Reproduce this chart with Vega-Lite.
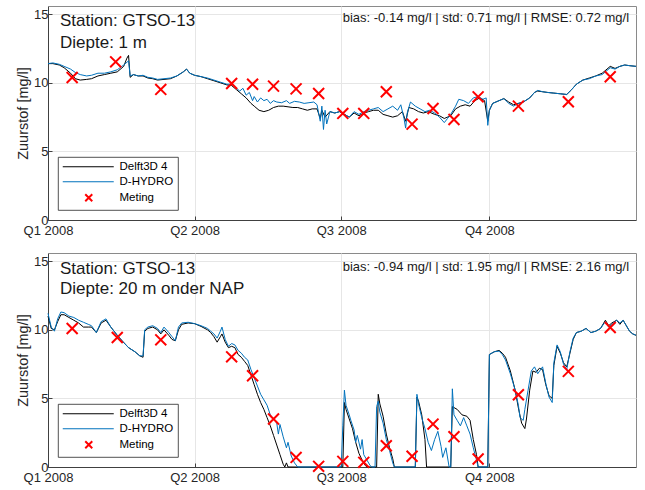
{
  "$schema": "https://vega.github.io/schema/vega-lite/v6.json",
  "padding": {"left": 15, "top": 5, "right": 7, "bottom": 3},
  "background": "white",
  "config": {
    "font": "Liberation Sans",
    "view": {"stroke": "#8a8a8a", "strokeWidth": 1},
    "concat": {"spacing": 14},
    "axis": {
      "labelFont": "Liberation Sans", "labelFontSize": 13, "labelColor": "#262626",
      "titleFont": "Liberation Sans", "titleFontSize": 14.5, "titleFontWeight": "normal", "titleColor": "#262626",
      "gridColor": "#e6e6e6", "gridWidth": 1,
      "domainColor": "#404040", "domainWidth": 1,
      "ticks": true, "tickSize": -4, "tickColor": "#404040"
    },
    "axisX": {"labelPadding": 8},
    "axisY": {"labelPadding": 4},
    "legend": {
      "orient": "bottom-left", "offset": 10, "padding": 4, "rowPadding": 2,
      "fillColor": "white", "strokeColor": "#262626", "strokeWidth": 0.8,
      "labelFont": "Liberation Sans", "labelFontSize": 11.5, "labelColor": "#000000",
      "labelOffset": 46, "symbolSize": 100, "symbolStrokeWidth": 1
    }
  },
  "datasets": {
    "top_d3d": [
      {"t":"2008-01-01","v":11.4},{"t":"2008-01-04","v":11.4},{"t":"2008-01-08","v":11.3},{"t":"2008-01-11","v":11.1},{"t":"2008-01-15","v":10.7},{"t":"2008-01-18","v":10.3},{"t":"2008-01-21","v":10.2},{"t":"2008-01-25","v":10.25},{"t":"2008-01-28","v":10.3},
      {"t":"2008-02-01","v":10.5},{"t":"2008-02-05","v":10.6},{"t":"2008-02-09","v":10.7},{"t":"2008-02-13","v":10.8},{"t":"2008-02-17","v":11.2},{"t":"2008-02-19","v":11.8},{"t":"2008-02-20","v":12.0},{"t":"2008-02-21","v":10.4},{"t":"2008-02-23","v":10.6},{"t":"2008-02-26","v":10.5},{"t":"2008-02-29","v":10.5},
      {"t":"2008-03-03","v":10.35},{"t":"2008-03-06","v":10.3},{"t":"2008-03-09","v":10.2},{"t":"2008-03-13","v":10.25},{"t":"2008-03-17","v":10.3},{"t":"2008-03-21","v":10.5},{"t":"2008-03-25","v":10.8},{"t":"2008-03-27","v":11.0},{"t":"2008-03-29","v":10.7},
      {"t":"2008-04-01","v":10.55},{"t":"2008-04-05","v":10.45},{"t":"2008-04-09","v":10.3},{"t":"2008-04-13","v":10.15},{"t":"2008-04-17","v":10.0},{"t":"2008-04-21","v":9.85},{"t":"2008-04-24","v":9.8},{"t":"2008-04-27","v":9.5},{"t":"2008-04-30","v":9.2},
      {"t":"2008-05-03","v":8.9},{"t":"2008-05-06","v":8.5},{"t":"2008-05-08","v":8.3},{"t":"2008-05-11","v":8.0},{"t":"2008-05-14","v":7.9},{"t":"2008-05-17","v":8.0},{"t":"2008-05-20","v":8.2},{"t":"2008-05-23","v":8.3},{"t":"2008-05-26","v":8.3},{"t":"2008-05-29","v":8.25},
      {"t":"2008-06-01","v":8.2},{"t":"2008-06-04","v":8.2},{"t":"2008-06-07","v":8.1},{"t":"2008-06-10","v":8.0},{"t":"2008-06-13","v":8.1},{"t":"2008-06-16","v":8.1},{"t":"2008-06-18","v":7.4},{"t":"2008-06-19","v":8.0},{"t":"2008-06-21","v":7.5},{"t":"2008-06-24","v":7.9},{"t":"2008-06-27","v":7.8},{"t":"2008-06-30","v":7.9},
      {"t":"2008-07-03","v":7.7},{"t":"2008-07-06","v":7.5},{"t":"2008-07-09","v":7.8},{"t":"2008-07-12","v":7.6},{"t":"2008-07-15","v":7.8},{"t":"2008-07-18","v":7.9},{"t":"2008-07-21","v":8.0},{"t":"2008-07-24","v":8.0},{"t":"2008-07-27","v":7.7},{"t":"2008-07-30","v":7.6},
      {"t":"2008-08-02","v":7.5},{"t":"2008-08-05","v":7.6},{"t":"2008-08-08","v":7.9},{"t":"2008-08-10","v":7.2},{"t":"2008-08-12","v":8.2},{"t":"2008-08-15","v":8.1},{"t":"2008-08-18","v":7.9},{"t":"2008-08-21","v":7.8},{"t":"2008-08-24","v":7.9},{"t":"2008-08-28","v":7.7},{"t":"2008-08-31","v":7.6},
      {"t":"2008-09-03","v":7.4},{"t":"2008-09-07","v":7.6},{"t":"2008-09-10","v":8.1},{"t":"2008-09-13","v":8.3},{"t":"2008-09-16","v":8.4},{"t":"2008-09-19","v":8.3},{"t":"2008-09-22","v":8.7},{"t":"2008-09-25","v":8.9},{"t":"2008-09-28","v":8.7},{"t":"2008-09-30","v":7.2},
      {"t":"2008-10-01","v":8.0},{"t":"2008-10-03","v":8.5},{"t":"2008-10-07","v":8.7},{"t":"2008-10-10","v":8.85},{"t":"2008-10-13","v":8.6},{"t":"2008-10-16","v":8.4},{"t":"2008-10-19","v":8.5},{"t":"2008-10-22","v":8.6},{"t":"2008-10-26","v":8.9},{"t":"2008-10-29","v":9.3},{"t":"2008-10-31","v":9.4},
      {"t":"2008-11-03","v":9.35},{"t":"2008-11-06","v":9.3},{"t":"2008-11-10","v":9.25},{"t":"2008-11-14","v":9.2},{"t":"2008-11-18","v":9.15},{"t":"2008-11-21","v":9.5},{"t":"2008-11-24","v":9.9},{"t":"2008-11-28","v":10.2},
      {"t":"2008-12-02","v":10.35},{"t":"2008-12-06","v":10.5},{"t":"2008-12-10","v":10.7},{"t":"2008-12-13","v":11.0},{"t":"2008-12-15","v":11.2},{"t":"2008-12-18","v":11.05},{"t":"2008-12-21","v":11.2},{"t":"2008-12-24","v":11.3},{"t":"2008-12-27","v":11.25},{"t":"2008-12-31","v":11.2}
    ],
    "top_dh": [
      {"t":"2008-01-01","v":11.4},{"t":"2008-01-04","v":11.45},{"t":"2008-01-08","v":11.35},{"t":"2008-01-11","v":11.2},{"t":"2008-01-15","v":11.0},{"t":"2008-01-18","v":10.75},{"t":"2008-01-21","v":10.6},{"t":"2008-01-25","v":10.5},{"t":"2008-01-28","v":10.55},
      {"t":"2008-02-01","v":10.7},{"t":"2008-02-05","v":10.7},{"t":"2008-02-09","v":10.8},{"t":"2008-02-13","v":10.95},{"t":"2008-02-17","v":11.3},{"t":"2008-02-19","v":11.5},{"t":"2008-02-20","v":11.6},{"t":"2008-02-21","v":10.5},{"t":"2008-02-23","v":10.6},{"t":"2008-02-26","v":10.5},{"t":"2008-02-29","v":10.55},
      {"t":"2008-03-03","v":10.4},{"t":"2008-03-06","v":10.35},{"t":"2008-03-09","v":10.25},{"t":"2008-03-13","v":10.3},{"t":"2008-03-17","v":10.35},{"t":"2008-03-21","v":10.5},{"t":"2008-03-25","v":10.8},{"t":"2008-03-27","v":11.0},{"t":"2008-03-29","v":10.7},
      {"t":"2008-04-01","v":10.55},{"t":"2008-04-05","v":10.45},{"t":"2008-04-09","v":10.35},{"t":"2008-04-13","v":10.2},{"t":"2008-04-17","v":10.05},{"t":"2008-04-21","v":9.9},{"t":"2008-04-24","v":9.9},{"t":"2008-04-27","v":9.6},{"t":"2008-04-29","v":9.4},
      {"t":"2008-05-01","v":9.6},{"t":"2008-05-03","v":9.1},{"t":"2008-05-05","v":9.3},{"t":"2008-05-07","v":8.7},{"t":"2008-05-08","v":9.0},{"t":"2008-05-10","v":8.6},{"t":"2008-05-12","v":8.9},{"t":"2008-05-14","v":8.7},{"t":"2008-05-16","v":8.8},{"t":"2008-05-18","v":8.5},{"t":"2008-05-20","v":8.7},{"t":"2008-05-22","v":8.6},{"t":"2008-05-25","v":8.55},{"t":"2008-05-28","v":8.7},{"t":"2008-05-30","v":8.5},
      {"t":"2008-06-02","v":8.65},{"t":"2008-06-05","v":8.6},{"t":"2008-06-08","v":8.5},{"t":"2008-06-11","v":8.55},{"t":"2008-06-14","v":8.6},{"t":"2008-06-16","v":8.4},{"t":"2008-06-18","v":7.2},{"t":"2008-06-19","v":8.3},{"t":"2008-06-20","v":6.6},{"t":"2008-06-21","v":8.0},{"t":"2008-06-22","v":7.0},{"t":"2008-06-24","v":7.9},{"t":"2008-06-27","v":7.8},{"t":"2008-06-30","v":7.9},
      {"t":"2008-07-03","v":7.7},{"t":"2008-07-06","v":7.5},{"t":"2008-07-09","v":7.9},{"t":"2008-07-12","v":7.7},{"t":"2008-07-15","v":7.9},{"t":"2008-07-18","v":8.0},{"t":"2008-07-21","v":8.1},{"t":"2008-07-24","v":8.2},{"t":"2008-07-27","v":7.9},{"t":"2008-07-30","v":8.1},
      {"t":"2008-08-02","v":8.3},{"t":"2008-08-05","v":8.0},{"t":"2008-08-07","v":8.4},{"t":"2008-08-09","v":7.4},{"t":"2008-08-10","v":6.7},{"t":"2008-08-11","v":7.8},{"t":"2008-08-13","v":8.6},{"t":"2008-08-16","v":8.3},{"t":"2008-08-19","v":8.1},{"t":"2008-08-22","v":7.9},{"t":"2008-08-25","v":8.0},{"t":"2008-08-28","v":7.8},{"t":"2008-08-31","v":7.5},
      {"t":"2008-09-03","v":7.1},{"t":"2008-09-05","v":7.4},{"t":"2008-09-07","v":7.7},{"t":"2008-09-10","v":8.3},{"t":"2008-09-12","v":8.8},{"t":"2008-09-15","v":8.7},{"t":"2008-09-18","v":8.5},{"t":"2008-09-21","v":8.9},{"t":"2008-09-24","v":9.0},{"t":"2008-09-27","v":8.8},{"t":"2008-09-29","v":8.9},{"t":"2008-09-30","v":6.9},
      {"t":"2008-10-01","v":8.0},{"t":"2008-10-03","v":8.5},{"t":"2008-10-07","v":8.7},{"t":"2008-10-10","v":8.85},{"t":"2008-10-13","v":8.5},{"t":"2008-10-16","v":8.3},{"t":"2008-10-19","v":8.5},{"t":"2008-10-22","v":8.6},{"t":"2008-10-26","v":8.9},{"t":"2008-10-29","v":9.3},{"t":"2008-10-31","v":9.45},
      {"t":"2008-11-03","v":9.35},{"t":"2008-11-06","v":9.3},{"t":"2008-11-10","v":9.25},{"t":"2008-11-14","v":9.2},{"t":"2008-11-18","v":9.15},{"t":"2008-11-21","v":9.5},{"t":"2008-11-24","v":9.9},{"t":"2008-11-28","v":10.2},
      {"t":"2008-12-02","v":10.3},{"t":"2008-12-06","v":10.5},{"t":"2008-12-10","v":10.6},{"t":"2008-12-13","v":10.9},{"t":"2008-12-15","v":11.1},{"t":"2008-12-18","v":11.0},{"t":"2008-12-21","v":11.2},{"t":"2008-12-24","v":11.3},{"t":"2008-12-27","v":11.25},{"t":"2008-12-31","v":11.2}
    ],
    "top_obs": [
      {"t":"2008-01-16","v":10.39},{"t":"2008-02-12","v":11.53},{"t":"2008-03-11","v":9.52},{"t":"2008-04-24","v":9.95},{"t":"2008-05-07","v":9.9},{"t":"2008-05-20","v":9.76},
      {"t":"2008-06-03","v":9.56},{"t":"2008-06-17","v":9.22},{"t":"2008-07-02","v":7.77},{"t":"2008-07-15","v":7.77},{"t":"2008-07-29","v":9.35},{"t":"2008-08-14","v":6.99},
      {"t":"2008-08-27","v":8.13},{"t":"2008-09-09","v":7.33},{"t":"2008-09-24","v":8.98},{"t":"2008-10-19","v":8.3},{"t":"2008-11-19","v":8.62},{"t":"2008-12-15","v":10.44}
    ],
    "bot_d3d": [
      {"t":"2008-01-01","v":11.0},{"t":"2008-01-03","v":10.1},{"t":"2008-01-05","v":10.0},{"t":"2008-01-07","v":10.6},{"t":"2008-01-09","v":11.1},{"t":"2008-01-11","v":11.1},{"t":"2008-01-14","v":10.9},{"t":"2008-01-17","v":10.7},{"t":"2008-01-20","v":10.5},{"t":"2008-01-23","v":10.2},{"t":"2008-01-26","v":10.2},{"t":"2008-01-28","v":10.2},{"t":"2008-01-31","v":9.8},
      {"t":"2008-02-03","v":10.5},{"t":"2008-02-06","v":10.7},{"t":"2008-02-09","v":10.2},{"t":"2008-02-13","v":9.6},{"t":"2008-02-16","v":9.2},{"t":"2008-02-20","v":8.7},{"t":"2008-02-24","v":8.4},{"t":"2008-02-27","v":8.1},{"t":"2008-02-29","v":8.0},
      {"t":"2008-03-01","v":9.9},{"t":"2008-03-03","v":10.1},{"t":"2008-03-06","v":10.2},{"t":"2008-03-09","v":10.0},{"t":"2008-03-11","v":9.7},{"t":"2008-03-13","v":10.0},{"t":"2008-03-16","v":9.6},{"t":"2008-03-18","v":9.3},{"t":"2008-03-20","v":9.2},{"t":"2008-03-22","v":10.0},{"t":"2008-03-24","v":10.4},{"t":"2008-03-28","v":10.5},
      {"t":"2008-04-01","v":10.45},{"t":"2008-04-05","v":10.25},{"t":"2008-04-09","v":10.0},{"t":"2008-04-11","v":9.8},{"t":"2008-04-13","v":9.5},{"t":"2008-04-15","v":9.1},{"t":"2008-04-17","v":9.5},{"t":"2008-04-18","v":9.7},{"t":"2008-04-20","v":9.1},{"t":"2008-04-22","v":8.7},{"t":"2008-04-24","v":8.8},{"t":"2008-04-26","v":8.7},{"t":"2008-04-28","v":8.2},{"t":"2008-04-30","v":8.0},
      {"t":"2008-05-02","v":7.7},{"t":"2008-05-04","v":7.4},{"t":"2008-05-06","v":6.7},{"t":"2008-05-08","v":6.0},{"t":"2008-05-10","v":5.3},{"t":"2008-05-12","v":4.7},{"t":"2008-05-14","v":4.2},{"t":"2008-05-16","v":3.6},{"t":"2008-05-18","v":3.0},{"t":"2008-05-20","v":2.3},{"t":"2008-05-22","v":1.6},{"t":"2008-05-24","v":0.9},{"t":"2008-05-26","v":0.2},{"t":"2008-05-27","v":0},{"t":"2008-05-28","v":0.3},{"t":"2008-05-29","v":0},
      {"t":"2008-07-02","v":0},{"t":"2008-07-03","v":4.7},{"t":"2008-07-04","v":4.2},{"t":"2008-07-06","v":3.5},{"t":"2008-07-08","v":2.8},{"t":"2008-07-10","v":1.8},{"t":"2008-07-12","v":1.0},{"t":"2008-07-14","v":0.5},{"t":"2008-07-16","v":0.1},{"t":"2008-07-17","v":0},
      {"t":"2008-07-23","v":0},{"t":"2008-07-24","v":5.3},{"t":"2008-07-25","v":4.6},{"t":"2008-07-27","v":3.7},{"t":"2008-07-29","v":2.4},{"t":"2008-07-31","v":1.4},{"t":"2008-08-02","v":0.6},{"t":"2008-08-03","v":0},
      {"t":"2008-08-16","v":0},{"t":"2008-08-17","v":5.1},{"t":"2008-08-18","v":4.8},{"t":"2008-08-20","v":3.8},{"t":"2008-08-22","v":2.0},{"t":"2008-08-23","v":0},
      {"t":"2008-09-07","v":0},{"t":"2008-09-08","v":4.4},{"t":"2008-09-11","v":4.2},{"t":"2008-09-14","v":3.8},{"t":"2008-09-17","v":3.7},{"t":"2008-09-19","v":3.4},{"t":"2008-09-21","v":2.0},{"t":"2008-09-23","v":0.9},{"t":"2008-09-24","v":0},{"t":"2008-09-30","v":0},
      {"t":"2008-10-01","v":8.2},{"t":"2008-10-04","v":8.4},{"t":"2008-10-07","v":8.5},{"t":"2008-10-09","v":8.3},{"t":"2008-10-11","v":8.0},{"t":"2008-10-14","v":7.0},{"t":"2008-10-17","v":5.6},{"t":"2008-10-19","v":4.3},{"t":"2008-10-21","v":3.2},{"t":"2008-10-23","v":2.8},{"t":"2008-10-24","v":3.5},{"t":"2008-10-26","v":5.6},{"t":"2008-10-28","v":7.0},{"t":"2008-10-30","v":6.9},
      {"t":"2008-11-01","v":7.2},{"t":"2008-11-03","v":7.1},{"t":"2008-11-05","v":6.0},{"t":"2008-11-07","v":5.2},{"t":"2008-11-09","v":5.0},{"t":"2008-11-10","v":7.4},{"t":"2008-11-12","v":8.8},{"t":"2008-11-14","v":8.3},{"t":"2008-11-16","v":7.6},{"t":"2008-11-18","v":7.3},{"t":"2008-11-20","v":8.3},{"t":"2008-11-22","v":9.3},{"t":"2008-11-24","v":9.8},{"t":"2008-11-27","v":9.9},{"t":"2008-11-30","v":10.1},
      {"t":"2008-12-03","v":9.8},{"t":"2008-12-06","v":9.9},{"t":"2008-12-09","v":10.1},{"t":"2008-12-12","v":10.7},{"t":"2008-12-14","v":10.3},{"t":"2008-12-16","v":10.5},{"t":"2008-12-19","v":10.7},{"t":"2008-12-21","v":10.4},{"t":"2008-12-23","v":10.7},{"t":"2008-12-25","v":10.3},{"t":"2008-12-27","v":9.9},{"t":"2008-12-29","v":9.7},{"t":"2008-12-31","v":9.6}
    ],
    "bot_dh": [
      {"t":"2008-01-01","v":11.2},{"t":"2008-01-03","v":10.2},{"t":"2008-01-05","v":9.9},{"t":"2008-01-07","v":10.8},{"t":"2008-01-09","v":11.3},{"t":"2008-01-11","v":11.25},{"t":"2008-01-14","v":11.0},{"t":"2008-01-17","v":10.9},{"t":"2008-01-20","v":10.7},{"t":"2008-01-23","v":10.55},{"t":"2008-01-26","v":10.4},{"t":"2008-01-28","v":10.3},{"t":"2008-01-31","v":9.8},
      {"t":"2008-02-03","v":10.6},{"t":"2008-02-06","v":10.8},{"t":"2008-02-09","v":10.2},{"t":"2008-02-13","v":9.6},{"t":"2008-02-16","v":9.2},{"t":"2008-02-20","v":8.7},{"t":"2008-02-24","v":8.4},{"t":"2008-02-27","v":8.1},{"t":"2008-02-29","v":8.1},
      {"t":"2008-03-01","v":10.0},{"t":"2008-03-03","v":10.2},{"t":"2008-03-06","v":10.3},{"t":"2008-03-09","v":10.1},{"t":"2008-03-11","v":9.8},{"t":"2008-03-13","v":10.2},{"t":"2008-03-16","v":9.8},{"t":"2008-03-18","v":9.5},{"t":"2008-03-20","v":9.2},{"t":"2008-03-22","v":10.2},{"t":"2008-03-24","v":10.5},{"t":"2008-03-28","v":10.55},
      {"t":"2008-04-01","v":10.45},{"t":"2008-04-05","v":10.3},{"t":"2008-04-09","v":10.1},{"t":"2008-04-11","v":9.9},{"t":"2008-04-13","v":9.7},{"t":"2008-04-15","v":9.4},{"t":"2008-04-17","v":9.9},{"t":"2008-04-18","v":10.2},{"t":"2008-04-20","v":9.3},{"t":"2008-04-22","v":8.8},{"t":"2008-04-24","v":9.0},{"t":"2008-04-26","v":8.9},{"t":"2008-04-28","v":8.5},{"t":"2008-04-30","v":8.3},
      {"t":"2008-05-02","v":8.0},{"t":"2008-05-04","v":7.8},{"t":"2008-05-06","v":7.1},{"t":"2008-05-08","v":6.5},{"t":"2008-05-10","v":5.9},{"t":"2008-05-12","v":5.3},{"t":"2008-05-14","v":4.9},{"t":"2008-05-16","v":4.5},{"t":"2008-05-18","v":3.8},{"t":"2008-05-20","v":3.5},{"t":"2008-05-22","v":3.2},{"t":"2008-05-23","v":2.4},{"t":"2008-05-24","v":3.1},{"t":"2008-05-26","v":2.2},{"t":"2008-05-28","v":1.4},{"t":"2008-05-29","v":1.8},{"t":"2008-05-31","v":0.8},
      {"t":"2008-06-02","v":0.3},{"t":"2008-06-04","v":0},{"t":"2008-07-01","v":0},{"t":"2008-07-02","v":3.0},{"t":"2008-07-03","v":5.6},{"t":"2008-07-04","v":4.5},{"t":"2008-07-06","v":3.8},{"t":"2008-07-07","v":3.4},{"t":"2008-07-09","v":2.7},{"t":"2008-07-10","v":1.8},{"t":"2008-07-11","v":2.3},{"t":"2008-07-13","v":1.3},{"t":"2008-07-14","v":2.0},{"t":"2008-07-15","v":0.9},{"t":"2008-07-17","v":0.5},{"t":"2008-07-19","v":0.1},{"t":"2008-07-20","v":0},
      {"t":"2008-07-22","v":0},{"t":"2008-07-23","v":4.4},{"t":"2008-07-24","v":4.8},{"t":"2008-07-25","v":4.0},{"t":"2008-07-27","v":3.2},{"t":"2008-07-29","v":2.0},{"t":"2008-07-31","v":1.2},{"t":"2008-08-02","v":0.3},{"t":"2008-08-03","v":0},
      {"t":"2008-08-16","v":0},{"t":"2008-08-17","v":5.3},{"t":"2008-08-18","v":4.6},{"t":"2008-08-20","v":3.6},{"t":"2008-08-22","v":2.8},{"t":"2008-08-24","v":1.8},{"t":"2008-08-26","v":1.2},{"t":"2008-08-28","v":2.0},{"t":"2008-08-30","v":2.6},{"t":"2008-09-01","v":1.5},{"t":"2008-09-02","v":0.7},{"t":"2008-09-04","v":1.4},{"t":"2008-09-06","v":0},
      {"t":"2008-09-07","v":0},{"t":"2008-09-08","v":5.7},{"t":"2008-09-09","v":3.8},{"t":"2008-09-11","v":3.4},{"t":"2008-09-13","v":3.0},{"t":"2008-09-15","v":3.6},{"t":"2008-09-17","v":3.0},{"t":"2008-09-19","v":2.4},{"t":"2008-09-21","v":1.4},{"t":"2008-09-23","v":0.5},{"t":"2008-09-24","v":0},{"t":"2008-09-30","v":0},
      {"t":"2008-10-01","v":8.2},{"t":"2008-10-04","v":8.4},{"t":"2008-10-07","v":8.45},{"t":"2008-10-09","v":8.2},{"t":"2008-10-11","v":7.8},{"t":"2008-10-14","v":6.8},{"t":"2008-10-17","v":5.6},{"t":"2008-10-19","v":4.5},{"t":"2008-10-20","v":3.6},{"t":"2008-10-22","v":3.4},{"t":"2008-10-23","v":4.2},{"t":"2008-10-25","v":5.6},{"t":"2008-10-27","v":7.0},{"t":"2008-10-29","v":7.3},{"t":"2008-10-31","v":6.8},
      {"t":"2008-11-03","v":7.3},{"t":"2008-11-05","v":6.1},{"t":"2008-11-07","v":5.1},{"t":"2008-11-09","v":4.7},{"t":"2008-11-10","v":7.6},{"t":"2008-11-12","v":8.9},{"t":"2008-11-14","v":8.4},{"t":"2008-11-16","v":7.5},{"t":"2008-11-18","v":7.1},{"t":"2008-11-20","v":8.4},{"t":"2008-11-22","v":9.4},{"t":"2008-11-24","v":9.8},{"t":"2008-11-27","v":9.9},{"t":"2008-11-30","v":10.1},
      {"t":"2008-12-03","v":9.8},{"t":"2008-12-06","v":9.9},{"t":"2008-12-09","v":10.1},{"t":"2008-12-12","v":10.6},{"t":"2008-12-14","v":10.2},{"t":"2008-12-16","v":10.4},{"t":"2008-12-19","v":10.7},{"t":"2008-12-21","v":10.5},{"t":"2008-12-23","v":10.7},{"t":"2008-12-25","v":10.3},{"t":"2008-12-27","v":9.9},{"t":"2008-12-29","v":9.7},{"t":"2008-12-31","v":9.6}
    ],
    "bot_obs": [
      {"t":"2008-01-16","v":10.1},{"t":"2008-02-13","v":9.44},{"t":"2008-03-11","v":9.27},{"t":"2008-04-24","v":8.03},{"t":"2008-05-07","v":6.65},{"t":"2008-05-20","v":3.5},
      {"t":"2008-06-03","v":0.7},{"t":"2008-06-17","v":0.05},{"t":"2008-07-02","v":0.41},{"t":"2008-07-15","v":0.34},{"t":"2008-07-29","v":1.55},{"t":"2008-08-14","v":0.78},
      {"t":"2008-08-27","v":3.13},{"t":"2008-09-09","v":2.21},{"t":"2008-09-24","v":0.58},{"t":"2008-10-19","v":5.27},{"t":"2008-11-19","v":6.97},{"t":"2008-12-15","v":10.17}
    ]
  },
  "vconcat": [
    {
      "width": 588, "height": 214,
      "encoding": {
        "x": {"field": "t", "type": "temporal",
          "scale": {"type": "utc", "domain": [{"year": 2008, "month": 1, "date": 1, "utc": true}, {"year": 2008, "month": 12, "date": 31, "utc": true}]},
          "axis": {"title": null, "values": [{"year": 2008, "month": 1, "date": 1, "utc": true}, {"year": 2008, "month": 4, "date": 1, "utc": true}, {"year": 2008, "month": 7, "date": 1, "utc": true}, {"year": 2008, "month": 10, "date": 1, "utc": true}], "labelExpr": "'Q' + utcquarter(datum.value) + ' ' + utcyear(datum.value)", "labelFlush": false}},
        "y": {"field": "v", "type": "quantitative",
          "scale": {"domain": [0, 15.6], "nice": false},
          "axis": {"title": "Zuurstof [mg/l]", "values": [0, 5, 10, 15], "titlePadding": 3}}
      },
      "layer": [
        {"data": {"name": "top_d3d"}, "mark": {"type": "line", "strokeWidth": 1},
         "encoding": {"color": {"datum": "Delft3D 4", "scale": {"domain": ["Delft3D 4", "D-HYDRO", "Meting"], "range": ["#000000", "#0072BD", "#FF0000"]},
           "legend": {"title": null, "encode": {"symbols": {"update": {"shape": {"signal": "datum.value === 'Meting' ? 'M3.5,-0.7L4.9,0.7M3.5,0.7L4.9,-0.7' : 'M-1,0L9.2,0'"}, "strokeWidth": {"signal": "datum.value === 'Meting' ? 2 : 1"}, "fill": {"value": "transparent"}}}}}}}},
        {"data": {"name": "top_dh"}, "mark": {"type": "line", "strokeWidth": 1}, "encoding": {"color": {"datum": "D-HYDRO"}}},
        {"data": {"name": "top_obs"}, "mark": {"type": "point", "shape": "M-1,-1L1,1M-1,1L1,-1", "filled": false, "strokeWidth": 2, "size": 120, "opacity": 1}, "encoding": {"color": {"datum": "Meting"}}},
        {"data": {"values": [{"t": "2008-01-08T11:00:00Z", "v": 14.13, "label": "Station: GTSO-13"}, {"t": "2008-01-08T11:00:00Z", "v": 12.53, "label": "Diepte: 1 m"}]},
         "mark": {"type": "text", "align": "left", "baseline": "alphabetic", "fontSize": 17, "color": "#1a1a1a"}, "encoding": {"text": {"field": "label"}}},
        {"data": {"values": [{"t": "2008-12-26T17:00:00Z", "v": 14.44, "label": "bias: -0.14 mg/l | std: 0.71 mg/l | RMSE: 0.72 mg/l"}]},
         "mark": {"type": "text", "align": "right", "baseline": "alphabetic", "fontSize": 13, "color": "#1a1a1a"}, "encoding": {"text": {"field": "label"}}}
      ]
    },
    {
      "width": 588, "height": 214,
      "encoding": {
        "x": {"field": "t", "type": "temporal",
          "scale": {"type": "utc", "domain": [{"year": 2008, "month": 1, "date": 1, "utc": true}, {"year": 2008, "month": 12, "date": 31, "utc": true}]},
          "axis": {"title": null, "values": [{"year": 2008, "month": 1, "date": 1, "utc": true}, {"year": 2008, "month": 4, "date": 1, "utc": true}, {"year": 2008, "month": 7, "date": 1, "utc": true}, {"year": 2008, "month": 10, "date": 1, "utc": true}], "labelExpr": "'Q' + utcquarter(datum.value) + ' ' + utcyear(datum.value)", "labelFlush": false}},
        "y": {"field": "v", "type": "quantitative",
          "scale": {"domain": [0, 15.6], "nice": false},
          "axis": {"title": "Zuurstof [mg/l]", "values": [0, 5, 10, 15], "titlePadding": 3}}
      },
      "layer": [
        {"data": {"name": "bot_d3d"}, "mark": {"type": "line", "strokeWidth": 1},
         "encoding": {"color": {"datum": "Delft3D 4", "scale": {"domain": ["Delft3D 4", "D-HYDRO", "Meting"], "range": ["#000000", "#0072BD", "#FF0000"]},
           "legend": {"title": null, "encode": {"symbols": {"update": {"shape": {"signal": "datum.value === 'Meting' ? 'M3.5,-0.7L4.9,0.7M3.5,0.7L4.9,-0.7' : 'M-1,0L9.2,0'"}, "strokeWidth": {"signal": "datum.value === 'Meting' ? 2 : 1"}, "fill": {"value": "transparent"}}}}}}}},
        {"data": {"name": "bot_dh"}, "mark": {"type": "line", "strokeWidth": 1}, "encoding": {"color": {"datum": "D-HYDRO"}}},
        {"data": {"name": "bot_obs"}, "mark": {"type": "point", "shape": "M-1,-1L1,1M-1,1L1,-1", "filled": false, "strokeWidth": 2, "size": 120, "opacity": 1}, "encoding": {"color": {"datum": "Meting"}}},
        {"data": {"values": [{"t": "2008-01-08T11:00:00Z", "v": 14.06, "label": "Station: GTSO-13"}, {"t": "2008-01-08T11:00:00Z", "v": 12.6, "label": "Diepte: 20 m onder NAP"}]},
         "mark": {"type": "text", "align": "left", "baseline": "alphabetic", "fontSize": 17, "color": "#1a1a1a"}, "encoding": {"text": {"field": "label"}}},
        {"data": {"values": [{"t": "2008-12-26T17:00:00Z", "v": 14.3, "label": "bias: -0.94 mg/l | std: 1.95 mg/l | RMSE: 2.16 mg/l"}]},
         "mark": {"type": "text", "align": "right", "baseline": "alphabetic", "fontSize": 13, "color": "#1a1a1a"}, "encoding": {"text": {"field": "label"}}}
      ]
    }
  ],
  "resolve": {"scale": {"color": "independent"}, "legend": {"color": "independent"}}
}
